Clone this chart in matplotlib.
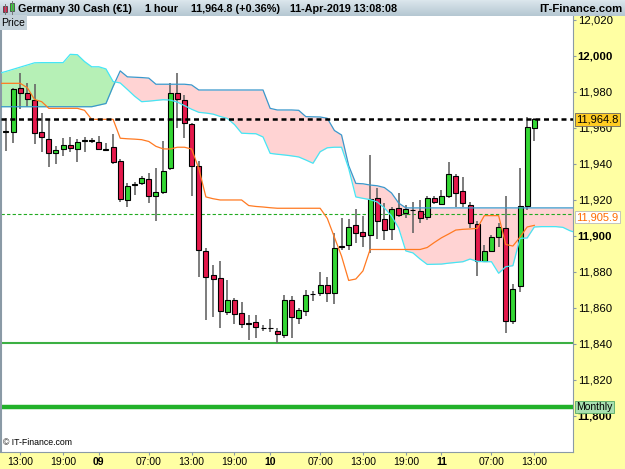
import matplotlib
matplotlib.use('Agg')
import matplotlib.pyplot as plt
import matplotlib.transforms as mtransforms
from matplotlib.colors import LinearSegmentedColormap
from matplotlib.patches import Rectangle
import numpy as np

plt.rcParams['font.family'] = ['Liberation Sans', 'DejaVu Sans']

# 1時間足 08-Apr 11:00 - 11-Apr 13:00 (75本)
opens = [11958.0, 11957.9, 11982.0, 11979.3, 11975.4, 11957.6, 11954.0, 11945.9, 11948.2, 11950.7,
         11948.3, 11952.8, 11952.8, 11952.4, 11947.6, 11949.3, 11941.5, 11920.0, 11928.2, 11929.3,
         11931.5, 11922.2, 11924.6, 11937.6, 11979.3, 11975.6, 11962.1, 11938.9, 11891.5, 11878.2,
         11876.5, 11857.9, 11864.6, 11857.4, 11851.3, 11852.1, 11848.7, 11848.7, 11847.4, 11845.0,
         11864.6, 11854.3, 11858.2, 11867.6, 11868.2, 11872.6, 11868.2, 11893.9, 11895.0, 11905.9,
         11902.2, 11900.4, 11920.9, 11909.3, 11903.7, 11915.4, 11912.6, 11914.4, 11914.1, 11910.7,
         11920.9, 11917.6, 11922.4, 11933.3, 11925.0, 11917.1, 11906.7, 11886.3, 11891.7, 11899.3,
         11904.3, 11852.8, 11872.2, 11916.7, 11959.8]
highs = [11965.6, 11982.2, 11990.7, 11985.0, 11984.4, 11968.5, 11964.4, 11950.0, 11954.6, 11955.2,
         11953.7, 11955.0, 11954.6, 11955.6, 11951.5, 11956.5, 11942.8, 11929.6, 11930.2, 11933.3,
         11934.8, 11937.6, 11952.8, 11984.8, 11990.4, 11978.3, 11962.8, 11941.7, 11893.2, 11883.9,
         11886.1, 11875.4, 11865.5, 11863.2, 11856.1, 11856.1, 11850.6, 11853.9, 11849.1, 11867.2,
         11866.7, 11860.0, 11870.0, 11869.6, 11880.0, 11877.4, 11901.5, 11909.8, 11909.4, 11914.8,
         11911.1, 11945.0, 11926.8, 11918.2, 11916.1, 11924.1, 11917.2, 11919.1, 11920.0, 11922.2,
         11922.2, 11925.6, 11940.9, 11934.4, 11932.9, 11918.9, 11908.3, 11895.0, 11900.6, 11907.1,
         11922.4, 11873.2, 11937.6, 11965.9, 11965.6]
lows = [11947.2, 11951.8, 11970.6, 11971.7, 11951.1, 11946.8, 11938.2, 11939.8, 11944.4, 11946.5,
        11941.1, 11946.8, 11951.5, 11947.8, 11947.2, 11939.8, 11918.7, 11915.9, 11922.8, 11928.3,
        11918.2, 11908.3, 11923.2, 11936.7, 11959.8, 11954.6, 11922.4, 11877.4, 11853.3, 11855.2,
        11848.7, 11856.1, 11850.9, 11848.7, 11842.2, 11843.2, 11847.4, 11846.8, 11840.4, 11843.2,
        11843.2, 11851.1, 11855.7, 11864.1, 11866.7, 11863.2, 11862.1, 11892.2, 11892.2, 11895.9,
        11894.1, 11890.7, 11898.3, 11897.8, 11897.8, 11910.7, 11909.8, 11901.8, 11907.1, 11908.9,
        11918.0, 11917.2, 11920.9, 11916.3, 11916.3, 11904.3, 11877.8, 11885.7, 11891.1, 11894.1,
        11845.9, 11851.0, 11869.1, 11914.4, 11952.8]
closes = [11958.5, 11981.7, 11979.3, 11975.9, 11957.0, 11954.8, 11945.9, 11947.6, 11950.4, 11948.9,
          11952.2, 11953.5, 11953.5, 11948.2, 11948.3, 11940.9, 11920.4, 11927.6, 11928.7, 11932.1,
          11922.2, 11924.6, 11936.3, 11979.3, 11975.9, 11962.6, 11939.0, 11892.2, 11877.4, 11875.9,
          11858.5, 11864.3, 11856.8, 11851.3, 11851.3, 11849.6, 11848.7, 11848.7, 11845.7, 11864.6,
          11854.8, 11858.7, 11867.2, 11867.6, 11872.6, 11868.2, 11893.2, 11894.6, 11905.2, 11901.5,
          11900.0, 11920.4, 11908.5, 11903.3, 11914.8, 11911.7, 11914.8, 11914.4, 11909.8, 11920.9,
          11918.7, 11922.2, 11934.3, 11923.7, 11918.2, 11907.1, 11886.1, 11891.8, 11899.3, 11904.8,
          11852.9, 11870.7, 11916.7, 11960.4, 11964.8]

# 一目均衡表 先行スパン (-1 - 80本目)
span_a = [11990.3, 11991.4, 11992.6, 11993.8, 11995.0, 11996.2, 11996.3, 11996.3, 11996.3, 11996.3,
          12000.9, 12000.7, 11996.9, 11994.0, 11994.0, 11992.8, 11985.8, 11985.0, 11981.4, 11977.7,
          11974.6, 11974.9, 11975.3, 11975.7, 11975.5, 11974.4, 11972.4, 11970.4, 11968.7, 11968.3,
          11967.7, 11966.4, 11965.3, 11961.9, 11957.1, 11956.9, 11956.8, 11955.0, 11945.9, 11945.4,
          11945.0, 11944.5, 11943.9, 11942.2, 11940.4, 11946.8, 11949.0, 11949.3, 11949.3, 11937.5,
          11921.7, 11920.9, 11920.2, 11918.9, 11915.6, 11911.1, 11904.4, 11891.7, 11890.6, 11887.2,
          11884.2, 11884.3, 11884.4, 11884.9, 11885.3, 11885.7, 11887.2, 11885.9, 11885.7, 11885.7,
          11879.3, 11882.9, 11883.5, 11898.7, 11898.9, 11905.0, 11905.2, 11905.2, 11905.2, 11904.8,
          11902.9, 11901.7]
span_b = [11971.8, 11971.8, 11971.8, 11971.8, 11971.8, 11971.8, 11971.8, 11971.8, 11971.8, 11971.8,
          11971.8, 11971.8, 11971.8, 11971.8, 11972.7, 11973.6, 11983.1, 11991.7, 11988.4, 11988.2,
          11988.0, 11987.7, 11984.3, 11984.3, 11984.3, 11984.3, 11984.3, 11983.9, 11981.1, 11981.1,
          11981.1, 11981.1, 11981.1, 11981.1, 11981.1, 11981.1, 11981.1, 11981.1, 11970.9, 11970.0,
          11970.0, 11970.0, 11969.8, 11966.3, 11966.2, 11966.1, 11965.4, 11958.6, 11956.1, 11939.1,
          11929.2, 11929.0, 11928.3, 11927.9, 11926.9, 11923.9, 11918.3, 11915.6, 11915.6, 11915.6,
          11915.6, 11915.6, 11915.6, 11915.6, 11915.6, 11915.6, 11915.6, 11915.6, 11915.6, 11915.6,
          11915.6, 11915.6, 11915.6, 11915.6, 11915.6, 11915.6, 11915.6, 11915.6, 11915.6, 11915.6,
          11915.6, 11915.6]
# 基準線 (-1 - 74本目)
kijun = [11984.8, 11984.8, 11984.8, 11984.8, 11982.3, 11975.8, 11974.6, 11970.9, 11970.9, 11970.9,
         11970.9, 11970.9, 11969.8, 11964.8, 11964.8, 11964.8, 11964.8, 11954.3, 11954.0, 11953.8,
         11953.5, 11952.5, 11949.8, 11948.4, 11948.3, 11949.3, 11949.3, 11948.3, 11937.5, 11921.7,
         11920.7, 11920.0, 11920.0, 11920.0, 11920.0, 11916.9, 11916.4, 11916.1, 11915.7, 11915.4,
         11915.4, 11915.4, 11915.4, 11915.4, 11915.4, 11915.4, 11909.8, 11899.3, 11888.8, 11875.3,
         11876.1, 11880.6, 11892.5, 11892.5, 11892.5, 11892.5, 11892.5, 11892.5, 11892.5, 11892.5,
         11893.6, 11896.4, 11899.0, 11901.1, 11903.3, 11903.7, 11903.9, 11904.2, 11911.3, 11911.3,
         11911.3, 11895.3, 11894.4, 11899.4, 11905.0, 11905.9]

last_price = 11964.8
kijun_last = 11905.9
daily_level = 11912.2
support = 11840.5
monthly = 11805.0

x_ticks = [2, 8, 13, 20, 26, 32, 37, 44, 50, 56, 61, 68, 74]
x_labels = ['13:00', '19:00', '09', '07:00', '13:00', '19:00', '10',
            '07:00', '13:00', '19:00', '11', '07:00', '13:00']
day_labels = ['09', '10', '11']
y_ticks = [11800, 11820, 11840, 11860, 11880, 11900, 11920, 11940, 11960, 11980, 12000, 12020]
bold_levels = [11800, 11900, 12000]

o = np.array(opens)
h = np.array(highs)
l = np.array(lows)
c = np.array(closes)
idx = np.arange(len(o))

fig = plt.figure(figsize=(6.25, 4.69), dpi=100, facecolor='#ffffa3')
ax = fig.add_axes([1/625, 17/469, 572/625, 436/469])
ax.set_facecolor('white')

# 雲
xs = np.arange(-1, -1 + len(span_a))
a = np.array(span_a)
b = np.array(span_b)
ax.fill_between(xs, a, b, where=a >= b, interpolate=True, color='#b6f0b6', lw=0, zorder=1)
ax.fill_between(xs, a, b, where=a < b, interpolate=True, color='#ffd3d3', lw=0, zorder=1)
ax.plot(xs, b, color='#3a98cc', lw=0.9, zorder=5)
ax.plot(xs, a, color='#45e6f5', lw=0.9, zorder=5)
xk = np.arange(-1, -1 + len(kijun))
ax.plot(xk, kijun, color='#ff7a22', lw=0.9, zorder=5)

# 水平線
ax.axhline(daily_level, color='#22aa22', lw=0.8, ls=(0, (3, 2)), zorder=2)
ax.axhline(support, color='#3cb043', lw=1.5, zorder=2)
ax.axhline(monthly, color='#22b12a', lw=3.2, zorder=2)

# ローソク足
up = c >= o
ax.vlines(idx, l, h, color='#666666', lw=1.2, zorder=3)
body = np.maximum(np.abs(c - o), 0.25)
ax.bar(idx, body, bottom=np.minimum(o, c), width=0.7,
       color=np.where(up, '#33d633', '#e5194c'), edgecolor='black', linewidth=0.8, zorder=4)

ax.axhline(last_price, color='black', lw=1.8, ls=(0, (2.0, 1.5)), zorder=6)

ax.set_xlim(-0.7, 79.42)
ax.set_ylim(11780, 12022.2)

ax.yaxis.tick_right()
ax.set_yticks(y_ticks)
ax.set_yticklabels([f'{v:,}' for v in y_ticks])
for lbl, v in zip(ax.get_yticklabels(), y_ticks):
    if v in bold_levels:
        lbl.set_fontweight('bold')
ax.tick_params(axis='y', direction='out', length=2.2, pad=1.2, labelsize=8.2, color='#8a9aa6')
ax.set_xticks(x_ticks)
ax.set_xticklabels(x_labels)
for lbl in ax.get_xticklabels():
    if lbl.get_text() in day_labels:
        lbl.set_fontweight('bold')
ax.tick_params(axis='x', direction='out', length=2.2, pad=1.2, labelsize=7.5, color='#8a9aa6')
for s in ax.spines.values():
    s.set_color('#8a9aa6')
    s.set_linewidth(0.8)
ax.spines['top'].set_visible(False)
ax.spines['left'].set_linewidth(1.5)

# 右側の価格ラベル
tr = mtransforms.blended_transform_factory(ax.transAxes, ax.transData)
ax.text(1.006, last_price, f'{last_price:,.1f}', transform=tr, va='center', ha='left', fontsize=8,
        bbox=dict(boxstyle='square,pad=0.12', fc='#ffcc22', ec='#666666', lw=0.6),
        zorder=10, clip_on=False)
ax.text(1.006, kijun_last + 4.6, f'{kijun_last:,.1f}', transform=tr, va='center', ha='left',
        fontsize=8, color='#ff6a00',
        bbox=dict(boxstyle='square,pad=0.12', fc='white', ec='#bbbbbb', lw=0.6),
        zorder=10, clip_on=False)
ax.text(1.006, monthly, 'Monthly', transform=tr, va='center', ha='left', fontsize=7.5,
        bbox=dict(boxstyle='square,pad=0.12', fc='#a8e0b0', ec='#55aa66', lw=0.6),
        zorder=10, clip_on=False)

ax.text(0.004, 0.012, '© IT-Finance.com', transform=ax.transAxes, fontsize=6.3, va='bottom', ha='left')

# ヘッダー
hax = fig.add_axes([0, 1 - 16/469, 1, 16/469])
grad = np.linspace(0, 1, 16).reshape(-1, 1)
cmap = LinearSegmentedColormap.from_list('hdr', ['#dbe6ec', '#b5c7d2'])
hax.imshow(grad, aspect='auto', cmap=cmap, extent=[0, 625, 16, 0])
hax.set_xlim(0, 625)
hax.set_ylim(16, 0)
hax.axis('off')
hax.plot([4.5, 4.5], [4, 15], color='#777777', lw=0.7)
hax.add_patch(Rectangle((2.5, 6.5), 4, 6, fc='#e5194c', ec='#333333', lw=0.5))
hax.plot([11.5, 11.5], [1, 14], color='#777777', lw=0.7)
hax.add_patch(Rectangle((9.5, 3.5), 4, 8, fc='#33d633', ec='#333333', lw=0.5))
hdr = dict(fontsize=7.8, fontweight='bold', va='center', ha='left')
hax.text(18, 8.5, 'Germany 30 Cash (€1)', **hdr)
hax.text(145, 8.5, '1 hour', **hdr)
hax.text(191, 8.5, '11,964.8 (+0.36%)', **hdr)
hax.text(290, 8.5, '11-Apr-2019 13:08:08', **hdr)
hax.text(622, 8.5, 'IT-Finance.com', fontsize=8.2, fontweight='bold', va='center', ha='right')

fig.text(1.5/625, 1 - 22.5/469, 'Price', fontsize=7.5, va='center', ha='left',
         bbox=dict(boxstyle='square,pad=0.2', fc='#c5d2da', ec='none'))

fig.savefig('out.png', dpi=100, facecolor=fig.get_facecolor())
